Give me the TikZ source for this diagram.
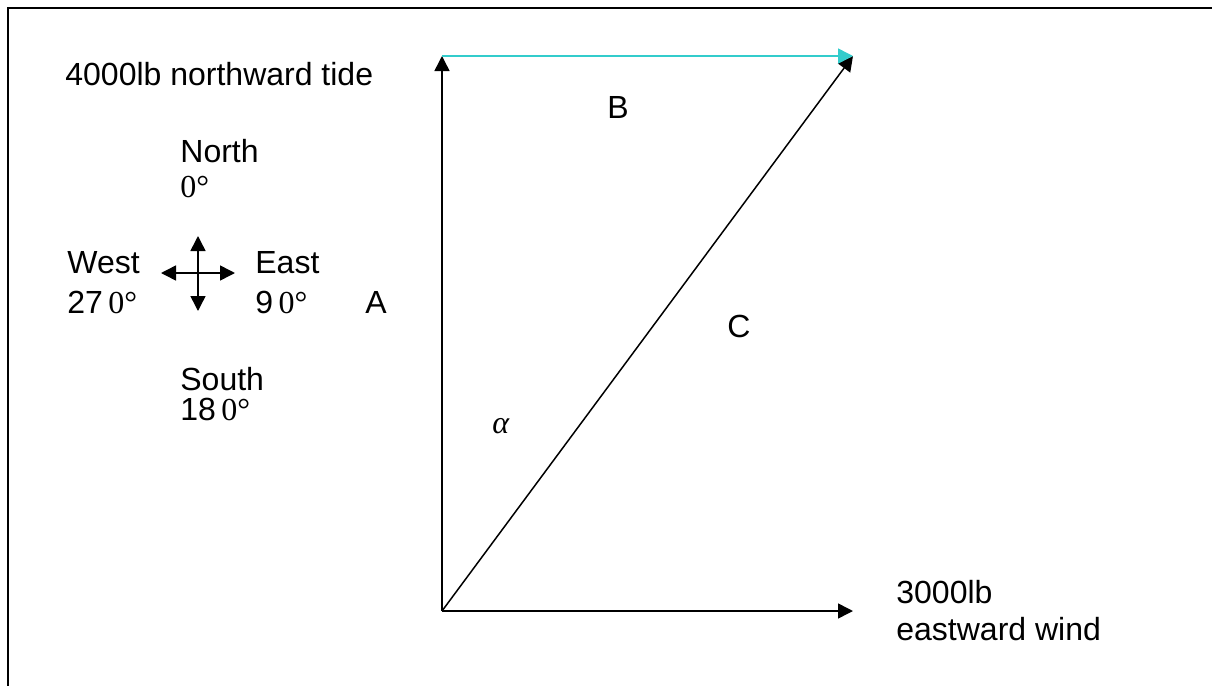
\documentclass[tikz,border=0pt]{standalone}
\usepackage{fontspec}
\setmainfont{Liberation Sans}
\newfontfamily\timesfont{Liberation Serif}
\usepackage{tikz}
\usetikzlibrary{arrows.meta}
\definecolor{tidecyan}{RGB}{51,204,204}
\tikzset{
    vec/.style={
        draw=black,
        line width=0.75pt,
        -{Triangle[length=7.5pt,width=7.5pt]}
    },
    lbl/.style={
        inner sep=0pt,
        anchor=base west,
        font=\fontsize{16}{18.5}\selectfont
    }
}
\newcommand{\degtxt}[1]{{\timesfont #1°}}

\begin{document}
\begin{tikzpicture}[x=0.5pt, y=-0.5pt]
            % Page size and frame
            \useasboundingbox (0,0) rectangle (1212,686);
            \draw [line width=1.3pt] (8,686) -- (8,8) -- (1212,8);

            % Points
            \coordinate (O) at (442,611);
            \coordinate (tide) at (442,56);
            \coordinate (wind) at (853,611);
            \coordinate (res) at (853,56);
            \coordinate (cmp) at (198,273);

            % Vectors
            \draw [vec] (O) -- (tide);
            \draw [vec] (O) -- (wind);
            \draw [vec] (O) -- (res);
            \draw [vec, draw=tidecyan, tidecyan] (tide) -- (res);

            % Compass
            \draw [vec, {Triangle[length=7.5pt,width=7.5pt]}-{Triangle[length=7.5pt,width=7.5pt]}]
                ([xshift=-18.5pt]cmp) -- ([xshift=18.5pt]cmp);
            \draw [vec, {Triangle[length=7.5pt,width=7.5pt]}-{Triangle[length=7.5pt,width=7.5pt]}]
                ([yshift=18.5pt]cmp) -- ([yshift=-19pt]cmp);

            % Labels
            \node (tideLbl) [lbl] at (65,85) {4000lb northward tide};
            \node (north) [lbl] at (180,162) {North};
            \node (northDeg) [lbl] at (180,197) {\degtxt{0}};
            \node (west) [lbl] at (67,273) {West};
            \node (westDeg) [lbl] at (67,313) {27\,\degtxt{0}};
            \node (east) [lbl] at (255,273) {East};
            \node (eastDeg) [lbl] at (255,313) {9\,\degtxt{0}};
            \node (south) [lbl] at (180,390) {South};
            \node (southDeg) [lbl] at (180,420) {18\,\degtxt{0}};
            \node (lblA) [lbl] at (365,313) {A};
            \node (lblB) [lbl] at (607,118) {B};
            \node (lblC) [lbl] at (727,337) {C};
            \node (alpha) [lbl] at (492,433) {\timesfont\itshape α};
            \node (windLbl) [lbl] at (896,603) {3000lb};
            \node (windLbl2) [lbl] at (896,640) {eastward wind};
        \end{tikzpicture}
\end{document}
